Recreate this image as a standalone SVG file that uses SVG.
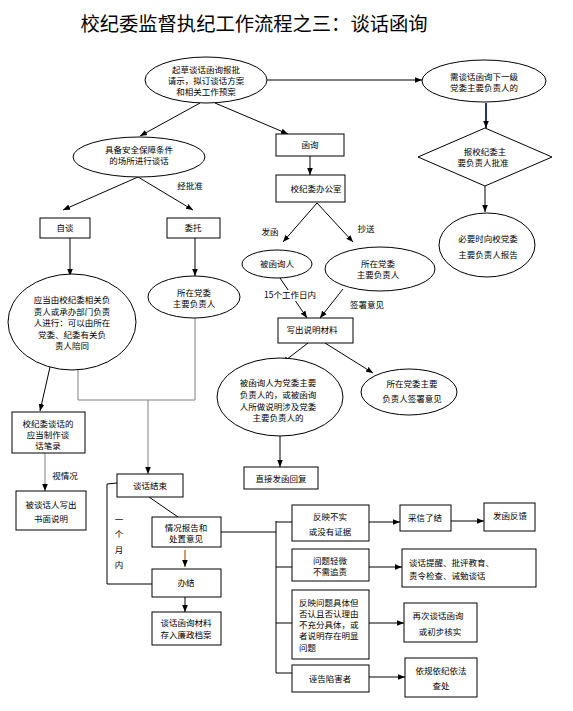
<svg xmlns="http://www.w3.org/2000/svg" width="573" height="711" viewBox="0 0 573 711">
<style>
text{font-family:"Noto Sans CJK SC","Liberation Sans",sans-serif;font-size:8.5px;fill:#000;text-anchor:middle}
.t{font-size:19.3px}
.l{text-anchor:start}
.s{fill:#fff;stroke:#000;stroke-width:1}
.c{fill:none;stroke:#000;stroke-width:1}
.g{fill:none;stroke:#808080;stroke-width:1}
</style>
<defs>
<marker id="ah" viewBox="0 0 10 10" refX="10" refY="5" markerWidth="7" markerHeight="7" markerUnits="userSpaceOnUse" orient="auto"><path d="M0,1 L10,5 L0,9 z" fill="#000"/></marker>
</defs>
<rect width="573" height="711" fill="#fff"/>
<text class="t" x="254" y="31">校纪委监督执纪工作流程之三：谈话函询</text>

<g id="connectors">
<line class="c" x1="267" y1="80" x2="422" y2="80" marker-end="url(#ah)"/>
<line x1="486" y1="103" x2="486" y2="128" stroke="#1F3864" stroke-width="2" marker-end="url(#ah)"/>
<line class="c" x1="485" y1="186" x2="485" y2="212" marker-end="url(#ah)"/>
<line class="c" x1="200" y1="103" x2="140" y2="136" marker-end="url(#ah)"/>
<line class="c" x1="215" y1="103" x2="288" y2="134" marker-end="url(#ah)"/>
<line class="c" x1="310" y1="156" x2="310" y2="175" marker-end="url(#ah)"/>
<line class="c" x1="317" y1="203" x2="283" y2="242" marker-end="url(#ah)"/>
<line class="c" x1="317" y1="203" x2="353" y2="242" marker-end="url(#ah)"/>
<line class="c" x1="280" y1="278" x2="307" y2="318" marker-end="url(#ah)"/>
<line class="c" x1="343" y1="289" x2="320" y2="318" marker-end="url(#ah)"/>
<line class="c" x1="308" y1="343" x2="282" y2="363" marker-end="url(#ah)"/>
<line class="c" x1="325" y1="343" x2="373" y2="373" marker-end="url(#ah)"/>
<line class="c" x1="280" y1="436" x2="280" y2="467" marker-end="url(#ah)"/>
<line class="c" x1="138" y1="177" x2="63" y2="210" marker-end="url(#ah)"/>
<line class="c" x1="138" y1="177" x2="193" y2="210" marker-end="url(#ah)"/>
<line class="c" x1="70" y1="238" x2="70" y2="276" marker-end="url(#ah)"/>
<line class="c" x1="195" y1="238" x2="195" y2="276" marker-end="url(#ah)"/>
<polyline class="g" points="195,318 195,400 78,400 78,370"/>
<line class="g" x1="148" y1="400" x2="148" y2="474" marker-end="url(#ah)"/>
<line class="c" x1="50" y1="367" x2="40" y2="411" marker-end="url(#ah)"/>
<line class="g" x1="45" y1="453" x2="45" y2="491" marker-end="url(#ah)"/>
<line class="c" x1="149" y1="497" x2="178" y2="517"/>
<line x1="185" y1="550" x2="185" y2="567" stroke="#B8651B" stroke-width="1.3" marker-end="url(#ah)"/>
<polyline class="c" points="117,483 107,484 107,584 152,584"/>
<line class="c" x1="185" y1="597" x2="185" y2="612" marker-end="url(#ah)"/>
<line class="c" x1="221" y1="532" x2="276" y2="532"/>
<line class="c" x1="276" y1="521" x2="276" y2="673"/>
<line class="c" x1="276" y1="522" x2="292" y2="522"/>
<line class="c" x1="276" y1="567" x2="292" y2="567"/>
<line class="c" x1="276" y1="623" x2="292" y2="623"/>
<line class="c" x1="276" y1="673" x2="292" y2="673"/>
<line class="c" x1="369" y1="522" x2="400" y2="522" marker-end="url(#ah)"/>
<line class="c" x1="451" y1="521" x2="484" y2="521" marker-end="url(#ah)"/>
<line class="c" x1="369" y1="567" x2="402" y2="567" marker-end="url(#ah)"/>
<line class="c" x1="369" y1="623" x2="404" y2="623" marker-end="url(#ah)"/>
<line class="c" x1="369" y1="677" x2="405" y2="677" marker-end="url(#ah)"/>
</g>

<g id="lbl-15"><rect x="262" y="290" width="56" height="11" fill="#fff"/><text x="290" y="298">15个工作日内</text></g>
<g id="lbl-sign"><text x="367" y="308">签署意见</text></g>
<g id="lbl-fahan"><text x="270" y="235">发函</text></g>
<g id="lbl-chaosong"><text x="366" y="232">抄送</text></g>
<g id="lbl-pizhun"><text x="190" y="189">经批准</text></g>
<g id="lbl-shiqing"><text x="65" y="479">视情况</text></g>
<g id="lbl-month"><text x="119" y="523">一</text><text x="119" y="537">个</text><text x="119" y="553">月</text><text x="119" y="568">内</text></g>

<g id="n-start"><ellipse class="s" cx="206" cy="80" rx="61" ry="23"/>
<text x="206" y="73">起草谈话函询报批</text><text x="206" y="84">请示，拟订谈话方案</text><text x="206" y="95">和相关工作预案</text></g>
<g id="n-need"><ellipse class="s" cx="484" cy="81" rx="62" ry="21"/>
<text x="484" y="80">需谈话函询下一级</text><text x="484" y="91">党委主要负责人的</text></g>
<g id="n-approve"><polygon class="s" points="485,128 552,157 485,186 418,157"/>
<text x="485" y="155">报校纪委主</text><text x="483" y="166">要负责人批准</text></g>
<g id="n-report"><ellipse class="s" cx="487" cy="245" rx="48" ry="32"/>
<text x="488" y="242">必要时向校党委</text><text x="488" y="258">主要负责人报告</text></g>

<g id="n-place"><ellipse class="s" cx="139" cy="157" rx="66" ry="20"/>
<text x="139" y="153">具备安全保障条件</text><text x="139" y="164">的场所进行谈话</text></g>
<g id="n-hanxun"><rect class="s" x="276" y="134" width="68" height="22"/><text x="310" y="148">函询</text></g>
<g id="n-office"><rect class="s" x="276" y="175" width="69" height="27"/><text x="316" y="192">校纪委办公室</text></g>
<g id="n-person"><ellipse class="s" cx="277" cy="264" rx="35" ry="14"/><text x="277" y="267">被函询人</text></g>
<g id="n-party1"><ellipse class="s" cx="380" cy="269" rx="55" ry="22"/>
<text x="378" y="267">所在党委</text><text x="378" y="278">主要负责人</text></g>
<g id="n-write"><rect class="s" x="278" y="318" width="75" height="25"/><text x="312" y="333">写出说明材料</text></g>
<g id="n-ifparty"><ellipse class="s" cx="280" cy="397" rx="63" ry="39"/>
<text x="278" y="386">被函询人为党委主要</text><text x="278" y="398">负责人的，或被函询</text><text x="278" y="410">人所做说明涉及党委</text><text x="278" y="421">主要负责人的</text></g>
<g id="n-sign"><ellipse class="s" cx="409" cy="392" rx="48" ry="23"/>
<text x="412" y="387">所在党委主要</text><text x="412" y="402">负责人签署意见</text></g>
<g id="n-reply"><rect class="s" x="244" y="467" width="74" height="22"/><text x="281" y="482">直接发函回复</text></g>

<g id="n-self"><rect class="s" x="40" y="218" width="50" height="20"/><text x="65" y="231">自谈</text></g>
<g id="n-entrust"><rect class="s" x="167" y="218" width="53" height="20"/><text x="193" y="231">委托</text></g>
<g id="n-who"><ellipse class="s" cx="72" cy="322" rx="64" ry="48"/>
<text x="72" y="303">应当由校纪委相关负</text><text x="72" y="315">责人或承办部门负责</text><text x="72" y="326">人进行：可以由所在</text><text x="72" y="338">党委、纪委有关负</text><text x="72" y="349">责人陪同</text></g>
<g id="n-party2"><ellipse class="s" cx="194" cy="297" rx="46" ry="21"/>
<text x="194" y="296">所在党委</text><text x="194" y="307">主要负责人</text></g>
<g id="n-record"><rect class="s" x="12" y="412" width="73" height="41"/>
<text x="48" y="427">校纪委谈话的</text><text x="48" y="438">应当制作谈</text><text x="48" y="449">话笔录</text></g>
<g id="n-written"><rect class="s" x="16" y="491" width="70" height="39"/>
<text x="51" y="508">被谈话人写出</text><text x="51" y="522">书面说明</text></g>
<g id="n-end"><rect class="s" x="117" y="474" width="66" height="23"/><text x="150" y="489">谈话结束</text></g>
<g id="n-situation"><rect class="s" x="152" y="517" width="69" height="30"/>
<text x="186" y="531">情况报告和</text><text x="186" y="542">处置意见</text></g>
<g id="n-done"><rect class="s" x="152" y="569" width="69" height="28"/><text x="186" y="586">办结</text></g>
<g id="n-archive"><rect class="s" x="152" y="612" width="69" height="33"/>
<text x="186" y="626">谈话函询材料</text><text x="186" y="638">存入廉政档案</text></g>

<g id="n-untrue"><rect class="s" x="292" y="505" width="77" height="36"/>
<text x="330" y="520">反映不实</text><text x="330" y="535">或没有证据</text></g>
<g id="n-accept"><rect class="s" x="400" y="505" width="51" height="26"/><text x="425" y="521">采信了结</text></g>
<g id="n-feedback"><rect class="s" x="484" y="503" width="51" height="28"/><text x="510" y="519">发函反馈</text></g>
<g id="n-minor"><rect class="s" x="292" y="549" width="77" height="32"/>
<text x="330" y="564">问题轻微</text><text x="330" y="575">不需追责</text></g>
<g id="n-remind"><rect class="s" x="402" y="549" width="134" height="38"/>
<text class="l" x="409" y="566">谈话提醒、批评教育、</text><text class="l" x="409" y="579">责令检查、诫勉谈话</text></g>
<g id="n-deny"><rect class="s" x="292" y="590" width="77" height="69"/>
<text class="l" x="299" y="606">反映问题具体但</text><text class="l" x="299" y="617">否认且否认理由</text><text class="l" x="299" y="628">不充分具体，或</text><text class="l" x="299" y="639">者说明存在明显</text><text class="l" x="299" y="651">问题</text></g>
<g id="n-again"><rect class="s" x="404" y="603" width="73" height="39"/>
<text x="438" y="619">再次谈话函询</text><text x="440" y="635">或初步核实</text></g>
<g id="n-false"><rect class="s" x="292" y="665" width="77" height="27"/><text x="330" y="682">诬告陷害者</text></g>
<g id="n-punish"><rect class="s" x="405" y="658" width="72" height="39"/>
<text x="441" y="674">依规依纪依法</text><text x="441" y="689">查处</text></g>
</svg>
